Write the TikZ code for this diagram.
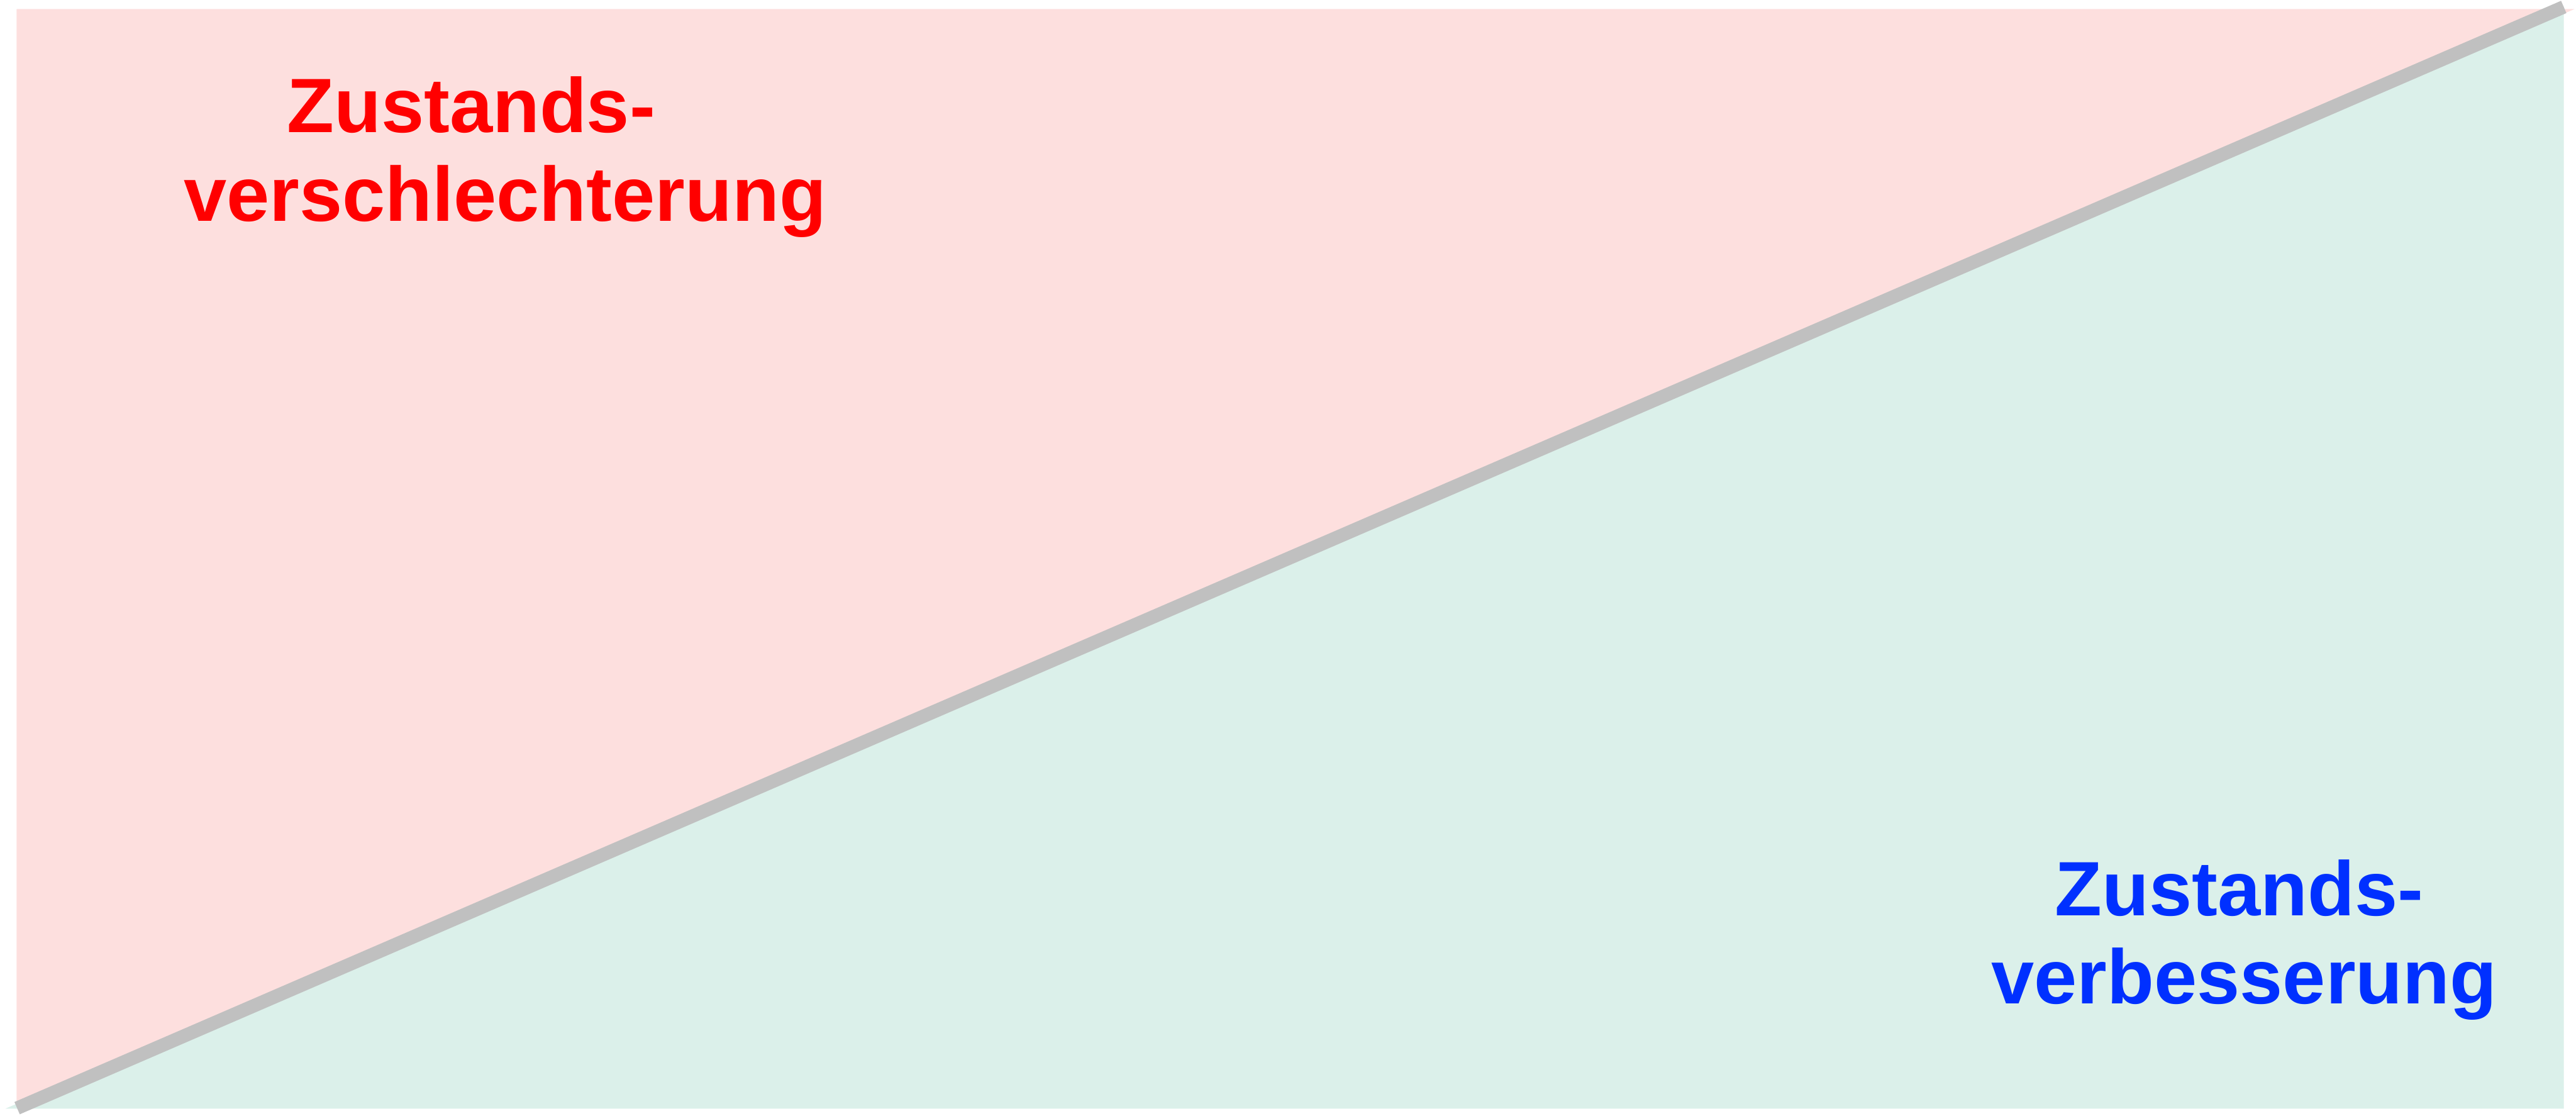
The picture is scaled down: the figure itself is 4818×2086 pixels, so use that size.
\documentclass[tikz,border=0pt]{standalone}
\usepackage{fontspec}
\setmainfont{Liberation Sans}
\definecolor{pinkbg}{HTML}{FDDFDE}
\definecolor{greenbg}{HTML}{DBF0EA}
\definecolor{linegray}{HTML}{C0C0C0}
\definecolor{redtxt}{HTML}{FF0000}
\definecolor{bluetxt}{HTML}{0030FF}
\tikzset{
  lbl/.style={anchor=base west, inner sep=0pt, font=\fontsize{41}{41}\selectfont\bfseries},
  diag/.style={draw=linegray, line width=0.25cm, line cap=butt}
}
\begin{document}
\begin{tikzpicture}[x=0.01cm, y=-0.01cm]
\useasboundingbox (0,0) rectangle (4818,2086);
\fill[pinkbg] (31,17) -- (4815,17) -- (31,2073) -- cycle;
\fill[greenbg] (10,2073) -- (4795,2073) -- (4795,12) -- cycle;
\coordinate (lo) at (32,2072);
\coordinate (hi) at (4795,13);
\draw[diag] (lo) -- (hi);
\node[lbl, text=redtxt] (r1) at (536,248) {Zustands-};
\node[lbl, text=redtxt] (r2) at (343,414) {verschlechterung};
\node[lbl, text=bluetxt] (b1) at (3843,1712) {Zustands-};
\node[lbl, text=bluetxt] (b2) at (3724,1877) {verbesserung};
\end{tikzpicture}
\end{document}
